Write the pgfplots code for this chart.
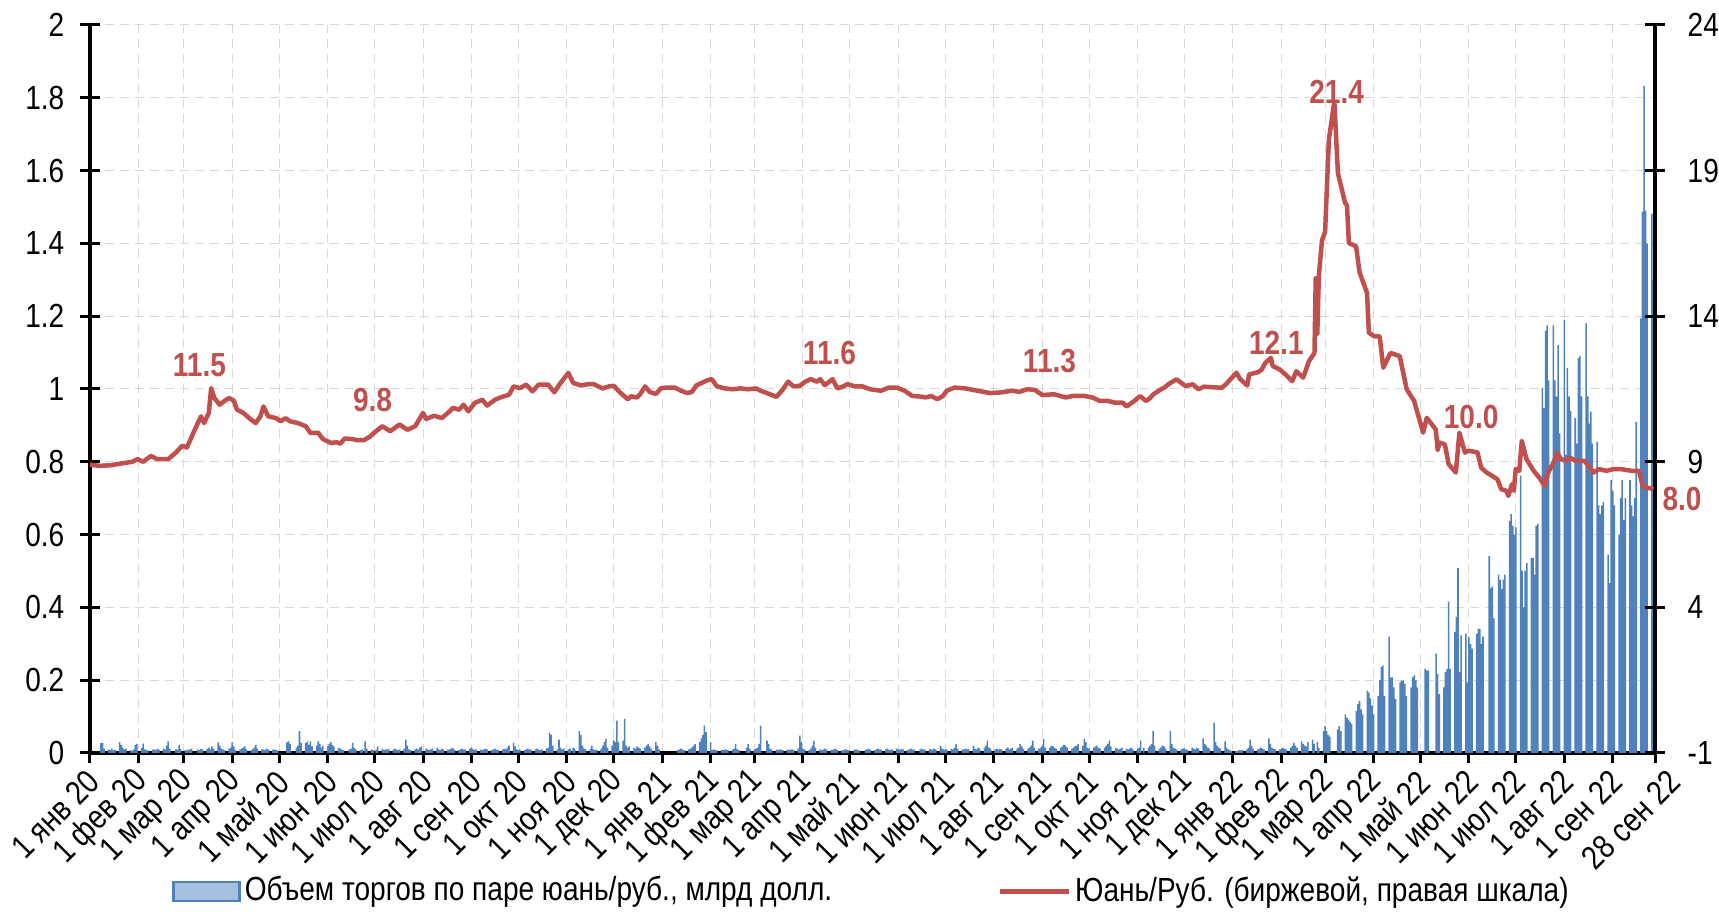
\documentclass[border=0pt]{standalone}
\usepackage{fontspec}
\setmainfont{Liberation Sans}[FakeStretch=0.84]
\usepackage{pgfplots}
\pgfplotsset{compat=1.18}
\definecolor{barblue}{HTML}{4F81BD}
\definecolor{legblue}{HTML}{A7BFDE}
\definecolor{linered}{HTML}{C0504D}
\definecolor{gridgray}{HTML}{D9D9D9}
\begin{document}
\begin{tikzpicture}
\useasboundingbox (0,0) rectangle (171.9mm,91.2mm);
\pgfplotsset{
  every axis/.append style={
    at={(9mm,15.9mm)}, anchor=south west,
    width=156.5mm, height=72.8mm, scale only axis,
    xmin=0, xmax=1001,
    font=\fontsize{9.5}{11}\selectfont,
    /pgf/number format/assume math mode=true,
    axis line style={line width=0.33mm, black},
    major tick style={line width=0.3mm, black},
  }
}
% bars, grid, x axis
\begin{axis}[
  ymin=0, ymax=2,
  axis x line*=bottom, axis y line*=left,
  ytick={0,0.2,0.4,0.6,0.8,1,1.2,1.4,1.6,1.8,2},
  yticklabels={},
  y tick style={draw=none},
  xtick={0,31,60,91,121,152,182,213,244,274,305,335,366,397,425,456,486,517,547,578,609,639,670,700,731,762,790,821,851,882,912,943,974},
  xticklabels={1 янв 20,1 фев 20,1 мар 20,1 апр 20,1 май 20,1 июн 20,1 июл 20,1 авг 20,1 сен 20,1 окт 20,1 ноя 20,1 дек 20,1 янв 21,1 фев 21,1 мар 21,1 апр 21,1 май 21,1 июн 21,1 июл 21,1 авг 21,1 сен 21,1 окт 21,1 ноя 21,1 дек 21,1 янв 22,1 фев 22,1 мар 22,1 апр 22,1 май 22,1 июн 22,1 июл 22,1 авг 22,1 сен 22},
  extra x ticks={1001},
  extra x tick labels={28 сен 22},
  extra x tick style={xticklabel style={xshift=1.13mm, yshift=-1.13mm}},
  xmajorgrids, ymajorgrids,
  major grid style={gridgray, line width=0.1mm, dash pattern=on 0.9mm off 0.6mm},
  major tick length=1mm,
  xtick align=outside,
  xticklabel style={anchor=east, inner sep=0pt, xshift=0.4mm, yshift=-1.3mm, rotate=45},
]
\addplot[ybar, bar width=1, fill=barblue, draw=none] coordinates {
(7,0.027)(8,0.028)(9,0.012)
(12,0.010)(13,0.008)(14,0.012)(15,0.007)(16,0.009)
(19,0.030)(20,0.022)(21,0.015)(22,0.010)(23,0.012)
(26,0.008)(27,0.006)(28,0.010)(29,0.022)(30,0.025)
(33,0.014)(34,0.026)(35,0.010)(36,0.008)(37,0.007)
(40,0.009)(41,0.010)(42,0.008)(43,0.011)(44,0.010)
(47,0.012)(48,0.010)(49,0.020)(50,0.032)(51,0.012)
(55,0.010)(56,0.009)(57,0.022)(58,0.011)
(61,0.008)(62,0.007)(63,0.009)(64,0.010)(65,0.012)
(69,0.010)(70,0.008)(71,0.011)(72,0.009)
(75,0.012)(76,0.015)(77,0.010)(78,0.018)(79,0.012)
(82,0.029)(83,0.020)(84,0.012)(85,0.010)(86,0.008)
(89,0.012)(90,0.015)(91,0.029)(92,0.018)(93,0.008)
(96,0.010)(97,0.012)(98,0.015)(99,0.018)(100,0.010)
(103,0.008)(104,0.010)(105,0.015)(106,0.022)(107,0.012)
(110,0.010)(111,0.009)(112,0.008)(113,0.012)(114,0.010)
(117,0.009)(118,0.010)(119,0.008)(120,0.007)
(126,0.029)(127,0.032)(128,0.025)
(132,0.015)(133,0.020)(134,0.060)(135,0.028)
(138,0.028)(139,0.032)(140,0.022)(141,0.032)(142,0.018)
(145,0.020)(146,0.032)(147,0.025)(148,0.015)(149,0.020)
(152,0.018)(153,0.025)(154,0.030)(155,0.022)(156,0.018)
(159,0.015)(160,0.012)(161,0.010)(162,0.008)
(166,0.010)(167,0.012)(168,0.028)(169,0.015)(170,0.010)
(173,0.008)(174,0.010)(176,0.032)(177,0.012)
(180,0.010)(181,0.008)(183,0.009)(184,0.018)
(187,0.012)(188,0.008)(189,0.010)(190,0.009)(191,0.012)
(194,0.010)(195,0.012)(196,0.009)(197,0.008)(198,0.010)
(201,0.012)(202,0.037)(203,0.020)(204,0.010)(205,0.008)
(208,0.010)(209,0.012)(210,0.009)(211,0.015)(212,0.018)
(215,0.012)(216,0.010)(217,0.008)(218,0.010)(219,0.012)
(222,0.014)(223,0.010)(224,0.008)(225,0.012)(226,0.010)
(229,0.009)(230,0.010)(231,0.012)(232,0.015)(233,0.010)
(236,0.008)(237,0.010)(238,0.012)(239,0.009)(240,0.010)
(243,0.012)(244,0.015)(245,0.010)(246,0.008)(247,0.010)
(250,0.009)(251,0.008)(252,0.010)(253,0.012)(254,0.010)
(257,0.008)(258,0.010)(259,0.012)(260,0.009)(261,0.008)
(264,0.010)(265,0.012)(266,0.010)(267,0.015)(268,0.020)
(271,0.028)(272,0.018)(273,0.010)(274,0.008)(275,0.010)
(278,0.008)(279,0.010)(280,0.012)(281,0.009)(282,0.010)
(285,0.010)(286,0.012)(287,0.009)(288,0.008)(289,0.010)
(292,0.012)(293,0.015)(294,0.055)(295,0.050)(296,0.020)
(299,0.010)(300,0.037)(301,0.015)(302,0.010)(303,0.012)
(306,0.010)(307,0.012)(309,0.015)(310,0.012)
(313,0.060)(314,0.050)(315,0.020)(316,0.012)(317,0.010)
(320,0.012)(321,0.020)(322,0.010)(323,0.008)(324,0.010)
(327,0.012)(328,0.020)(329,0.030)(330,0.039)(331,0.015)
(334,0.020)(335,0.035)(336,0.030)(337,0.089)(338,0.030)
(341,0.034)(342,0.094)(343,0.020)(344,0.015)(345,0.018)
(348,0.015)(349,0.012)(350,0.018)(351,0.015)(352,0.012)
(355,0.015)(356,0.020)(357,0.025)(358,0.018)(359,0.012)
(362,0.030)(363,0.020)(364,0.010)
(376,0.008)(377,0.010)(378,0.012)(379,0.009)(380,0.008)
(383,0.010)(384,0.012)(385,0.015)(386,0.020)(387,0.025)
(390,0.030)(391,0.040)(392,0.050)(393,0.075)(394,0.057)
(397,0.030)(398,0.008)(399,0.010)(400,0.008)(401,0.007)
(404,0.009)(405,0.008)(406,0.010)(407,0.009)(408,0.008)
(411,0.010)(412,0.012)(413,0.025)(414,0.010)(415,0.008)
(420,0.015)(421,0.025)(422,0.012)
(425,0.010)(426,0.012)(427,0.015)(428,0.025)(429,0.075)
(433,0.034)(434,0.025)(435,0.012)(436,0.010)
(439,0.009)(440,0.008)(441,0.010)(442,0.009)(443,0.008)
(446,0.010)(447,0.008)(448,0.009)(449,0.010)(450,0.008)
(453,0.012)(454,0.048)(455,0.030)(456,0.012)(457,0.010)
(460,0.008)(461,0.012)(462,0.020)(463,0.034)(464,0.015)
(467,0.010)(468,0.008)(469,0.009)(470,0.012)(471,0.010)
(474,0.008)(475,0.009)(476,0.010)(477,0.012)(478,0.008)
(481,0.007)(482,0.008)(483,0.010)(484,0.009)(485,0.008)
(489,0.009)(490,0.010)(491,0.008)(492,0.007)
(496,0.008)(497,0.010)(498,0.012)(499,0.009)
(502,0.008)(503,0.010)(504,0.012)(505,0.010)(506,0.009)
(509,0.010)(510,0.012)(511,0.009)(512,0.008)(513,0.010)
(516,0.012)(517,0.010)(518,0.009)(519,0.011)(520,0.010)
(523,0.008)(524,0.010)(525,0.012)(526,0.009)(527,0.010)
(531,0.010)(532,0.012)(533,0.009)(534,0.010)
(537,0.011)(538,0.009)(539,0.010)(540,0.012)(541,0.010)
(544,0.020)(545,0.012)(546,0.010)(547,0.009)(548,0.010)
(551,0.012)(552,0.010)(553,0.015)(554,0.025)(555,0.012)
(558,0.010)(559,0.009)(560,0.012)(561,0.010)(562,0.011)
(565,0.020)(566,0.012)(567,0.010)(568,0.015)(569,0.012)
(572,0.015)(573,0.020)(574,0.034)(575,0.015)(576,0.012)
(579,0.010)(580,0.012)(581,0.009)(582,0.011)(583,0.010)
(586,0.012)(587,0.015)(588,0.010)(589,0.012)(590,0.015)
(593,0.012)(594,0.015)(595,0.025)(596,0.018)(597,0.012)
(600,0.012)(601,0.015)(602,0.020)(603,0.034)(604,0.015)
(607,0.012)(608,0.015)(609,0.020)(610,0.039)(611,0.015)
(614,0.015)(615,0.020)(616,0.018)(617,0.015)(618,0.012)
(621,0.015)(622,0.018)(623,0.022)(624,0.020)(625,0.015)
(628,0.012)(629,0.015)(630,0.018)(631,0.020)(632,0.025)
(635,0.020)(636,0.039)(637,0.030)(638,0.015)(639,0.012)
(642,0.015)(643,0.018)(644,0.020)(645,0.015)(646,0.012)
(649,0.015)(650,0.020)(651,0.025)(652,0.034)(653,0.018)
(656,0.015)(657,0.012)(658,0.010)(659,0.012)(660,0.015)
(663,0.012)(664,0.010)(665,0.012)(666,0.015)(667,0.010)
(670,0.012)(671,0.015)(672,0.034)(674,0.015)
(677,0.015)(678,0.020)(679,0.025)(680,0.061)(681,0.020)
(684,0.012)(685,0.015)(686,0.020)(687,0.018)(688,0.012)
(691,0.061)(692,0.025)(693,0.015)(694,0.012)(695,0.010)
(698,0.010)(699,0.013)(700,0.012)(701,0.010)(702,0.008)
(705,0.015)(706,0.012)(707,0.010)(708,0.015)(709,0.012)
(712,0.040)(713,0.025)(714,0.020)(715,0.015)(716,0.012)
(719,0.083)(720,0.030)(721,0.020)(722,0.015)(723,0.012)
(726,0.032)(727,0.015)(728,0.010)(729,0.008)(730,0.005)
(733,0.005)(734,0.006)(735,0.008)(736,0.007)(737,0.008)
(740,0.010)(741,0.015)(742,0.037)(743,0.020)(744,0.012)
(747,0.010)(748,0.012)(749,0.015)(750,0.012)(751,0.010)
(754,0.040)(755,0.025)(756,0.015)(757,0.012)(758,0.010)
(761,0.010)(762,0.012)(763,0.015)(764,0.012)(765,0.010)
(768,0.015)(769,0.020)(770,0.028)(771,0.020)(772,0.015)
(775,0.032)(776,0.025)(777,0.020)(778,0.018)(779,0.030)
(782,0.037)(783,0.025)(785,0.030)(786,0.014)
(789,0.060)(790,0.074)(791,0.060)(792,0.050)(793,0.045)
(798,0.065)(799,0.074)(800,0.060)
(803,0.106)(804,0.097)(805,0.092)(806,0.085)(807,0.080)
(810,0.116)(811,0.134)(812,0.143)(813,0.120)(814,0.106)
(817,0.171)(818,0.166)(819,0.150)(820,0.130)(821,0.106)
(824,0.157)(825,0.200)(826,0.236)(827,0.240)(828,0.157)
(831,0.319)(832,0.208)(833,0.208)(834,0.180)(835,0.148)
(838,0.194)(839,0.199)(840,0.199)(841,0.190)(842,0.157)
(845,0.180)(846,0.208)(847,0.213)(848,0.200)(849,0.180)
(854,0.231)(855,0.227)(856,0.227)
(861,0.273)(862,0.217)(863,0.162)
(866,0.180)(867,0.222)(868,0.231)(869,0.416)(870,0.231)
(873,0.333)(874,0.374)(875,0.508)(876,0.222)(877,0.323)
(880,0.328)(881,0.194)(882,0.319)(883,0.300)(884,0.287)
(887,0.328)(888,0.342)(889,0.340)(890,0.300)(891,0.320)
(895,0.541)(896,0.453)(897,0.458)(898,0.370)
(901,0.490)(902,0.476)(903,0.450)(904,0.476)(905,0.490)
(908,0.638)(909,0.656)(910,0.624)(911,0.600)(912,0.620)
(915,0.762)(916,0.500)(917,0.400)(918,0.500)(919,0.522)
(922,0.536)(923,0.536)(924,0.490)(925,0.624)(926,0.630)
(929,1.003)(930,0.948)(931,1.160)(932,1.175)(933,1.024)
(936,1.175)(937,1.024)(938,0.979)(939,1.121)(940,0.878)
(943,1.189)(944,0.819)(945,1.057)(946,0.979)(947,0.940)
(950,0.920)(951,0.850)(952,1.085)(953,1.090)(954,0.980)
(957,1.180)(958,0.980)(959,0.905)(960,0.938)(961,0.850)
(964,0.855)(965,0.680)(966,0.656)(967,0.680)(968,0.690)
(971,0.545)(972,0.467)(973,0.750)(974,0.720)(975,0.680)
(978,0.600)(979,0.700)(980,0.750)(981,0.640)(982,0.700)
(985,0.750)(986,0.680)(987,0.650)(988,0.700)(989,0.910)
(992,1.194)(993,1.487)(994,1.832)(995,1.490)(996,1.400)
(999,1.482)(1000,1.300)
};
\end{axis}
% left y axis ticks and labels
\begin{axis}[
  ymin=0, ymax=2,
  axis x line=none, axis y line*=left,
  ytick={0,0.2,0.4,0.6,0.8,1,1.2,1.4,1.6,1.8,2},
  yticklabels={0,0.2,0.4,0.6,0.8,1,1.2,1.4,1.6,1.8,2},
  major tick length=2mm,
  ytick align=center,
  yticklabel style={anchor=east, inner sep=0pt, xshift=-1.5mm},
]
\addplot[draw=none] coordinates {(0,0)};
\end{axis}
% line on right axis
\begin{axis}[
  ymin=-1, ymax=24,
  axis x line=none, axis y line*=right,
  ytick={-1,4,9,14,19,24},
  major tick length=2mm,
  ytick align=center,
  yticklabel style={anchor=west, inner sep=0pt, xshift=2.2mm},
  clip=false,
  legend style={at={(0.5,-0.19)}, anchor=center, draw=none, fill=none,
    font=\fontsize{9.5}{11}\selectfont, legend columns=2,
    /tikz/every even column/.append style={column sep=16.1mm},
    inner sep=0pt, nodes={inner sep=0.4mm}},
]
\addlegendimage{legend image code/.code={\draw[fill=legblue, draw=barblue, line width=0.25mm] (0mm,-0.95mm) rectangle (6.6mm,0.95mm);}}
\addlegendentry{Объем торгов по паре юань/руб., млрд долл.}
\addplot[linered, line width=0.45mm, line join=round, legend image code/.code={\draw[linered, line width=0.5mm] (0mm,0mm) -- (6.9mm,0mm);}] coordinates {
(0,8.90)(6,8.86)(13,8.88)(21,8.95)(27,9.0)(30.5,9.09)(34,9.0)(39,9.2)(43,9.09)(50,9.09)
(55,9.32)(59,9.55)(62,9.49)(67,10.1)(71,10.56)(73,10.33)(76,10.68)(77.5,11.53)(79.5,11.19)
(83,10.96)(87,11.13)(89,11.19)(92,11.1)(94,10.79)(98,10.68)(103,10.45)(106,10.33)(109,10.56)
(111,10.9)(114,10.56)(119,10.5)(122,10.39)(125,10.5)(128,10.39)(133,10.33)(138,10.22)
(141,9.99)(146,9.99)(149,9.78)(154,9.65)(158,9.67)(160,9.62)(163,9.8)(168,9.78)(171,9.74)
(175,9.74)(179,9.86)(182,10.01)(187,10.22)(192,10.05)(198,10.28)(203,10.1)(208,10.22)
(213,10.68)(215,10.47)(220,10.58)(225,10.5)(230,10.73)(232,10.85)(236,10.79)(239,10.96)
(242,10.73)(246,11.02)(251,11.13)(254,10.93)(259,11.13)(263,11.22)(268,11.3)(271,11.59)
(275,11.53)(279,11.65)(283,11.42)(287,11.65)(293,11.65)(297,11.39)(301,11.71)(306,12.05)
(309,11.71)(314,11.62)(319,11.67)(322,11.67)(325,11.59)(328,11.52)(332,11.59)(335,11.61)
(339,11.38)(344,11.15)(346,11.25)(350,11.21)(352,11.33)(355,11.59)(358,11.4)(362,11.33)
(365,11.52)(369,11.55)(374,11.55)(378,11.44)(382,11.36)(385,11.4)(388,11.63)(391,11.7)
(394,11.78)(397.6,11.84)(401,11.59)(406,11.52)(411,11.49)(416,11.52)(421,11.49)(426,11.52)
(429,11.44)(433,11.36)(439,11.23)(443,11.47)(446.5,11.75)(450,11.59)(454,11.61)(457.5,11.75)
(461,11.84)(465,11.75)(467,11.84)(470,11.63)(475,11.84)(478,11.52)(482,11.59)(484.5,11.67)
(489,11.59)(494,11.59)(499,11.49)(506,11.44)(511,11.55)(516,11.55)(521,11.44)(526,11.26)
(531,11.24)(534.6,11.21)(538,11.26)(542,11.15)(545.6,11.26)(548,11.44)(553,11.55)(560,11.52)
(567.6,11.44)(576,11.36)(582,11.38)(590,11.44)(594.5,11.4)(599.4,11.49)(604.3,11.47)
(609.2,11.29)(616.6,11.32)(624,11.21)(628.8,11.26)(636,11.26)(641,11.21)(646,11.09)
(651,11.09)(655.7,11.03)(660.6,11.03)(663,10.9)(668,11.09)(671.6,11.26)(675.3,11.09)
(677.7,11.17)(680.2,11.32)(685,11.49)(687,11.54)(690,11.67)(692,11.74)(695,11.83)
(700.7,11.6)(705.4,11.66)(709,11.49)(712.4,11.58)(724,11.54)(727.4,11.71)(733.3,12.06)
(735.5,11.85)(740.2,11.62)(741.4,12.0)(747.2,12.08)(749.5,12.17)(751.8,12.4)(755.3,12.57)
(756.5,12.29)(761,12.17)(764.6,12.0)(769,11.77)(771.6,12.11)(776,11.89)(779.7,12.46)
(783.2,12.74)(784,15.3)(785,13.4)(786,15.4)(788,16.6)(790,16.9)(792.4,20.06)(795.9,21.37)
(798.2,18.91)(802.8,17.89)(804,17.8)(805.2,16.51)(809.8,16.4)(812.1,15.49)(816.8,14.8)
(818,13.43)(821.5,13.31)(824.9,13.31)(827.2,12.23)(831.8,12.74)(837.7,12.63)(842.2,11.49)
(846.9,11.09)(852.7,10.0)(855,10.51)(860.8,10.11)(862,9.4)(863.1,9.66)(866.6,9.6)(869,8.92)
(873.6,8.63)(875.9,10.0)(879.4,9.32)(881.7,9.38)(887.5,9.32)(889.8,8.8)(893.3,8.63)
(896.7,8.52)(900.2,8.4)(902.6,8.06)(906,8.0)(907.2,7.83)(909.5,8.23)(910.7,8.0)(911.9,8.75)
(914.2,8.69)(915.8,9.72)(918.8,9.09)(923.4,8.69)(926.9,8.46)(930.4,8.18)(932.7,8.63)
(936.2,8.98)(938.5,9.32)(940.8,9.09)(944.3,9.03)(946.6,9.15)(950.1,9.03)(955.9,9.03)
(959.4,8.8)(961.7,8.63)(965.2,8.75)(969.9,8.69)(974.5,8.75)(979.1,8.75)(986.1,8.69)
(990.7,8.69)(993.1,8.18)(995.4,8.12)(1000,8.06)
};
\addlegendentry{Юань/Руб. (биржевой, правая шкала)}
\begin{scope}[every node/.style={font=\fontsize{9.5}{11}\selectfont\bfseries, text=linered, inner sep=0pt}]
\node at (axis cs:70,12.32) {11.5};
\node at (axis cs:180.7,11.12) {9.8};
\node at (axis cs:473,12.74) {11.6};
\node at (axis cs:613.7,12.46) {11.3};
\node at (axis cs:758.8,13.08) {12.1};
\node at (axis cs:797.4,21.7) {21.4};
\node at (axis cs:883.4,10.54) {10.0};
\node at (axis cs:1018.3,7.72) {8.0};
\end{scope}
\end{axis}
\end{tikzpicture}
\end{document}
